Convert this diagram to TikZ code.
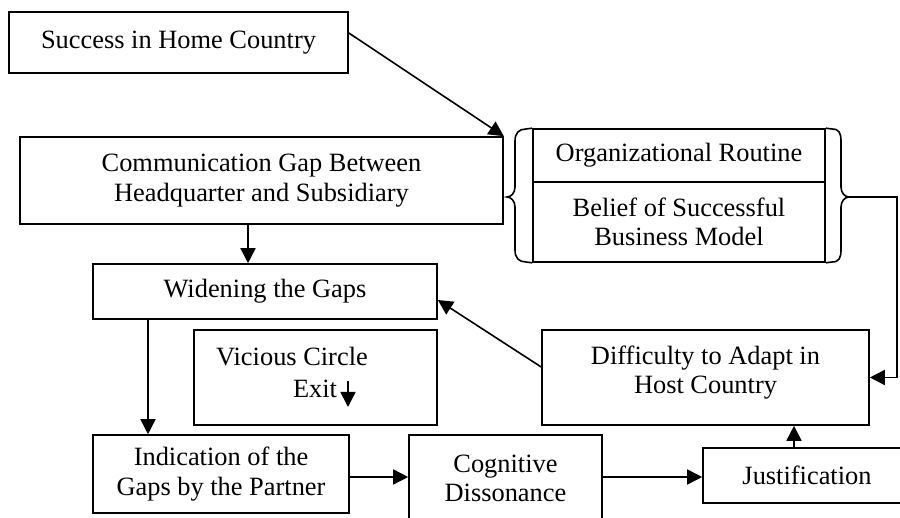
\documentclass[tikz,border=0pt]{standalone}
\usepackage{fontspec}
\setmainfont{Liberation Serif}
\usetikzlibrary{arrows.meta,calc}
\tikzset{
  box/.style={draw, line width=0.8pt, inner sep=0pt, align=center, font=\fontsize{13.2}{14.8}\selectfont},
  txt/.style={inner sep=0pt, align=center, font=\fontsize{13.2}{14.8}\selectfont},
  arr/.style={line width=0.8pt, -{Triangle[length=7.5pt,width=7.5pt]}},
  brace/.style={line width=0.8pt}
}
\begin{document}
\begin{tikzpicture}[x=0.5pt,y=-0.5pt]
\clip (0,0) rectangle (900,518);
\fill[white] (0,0) rectangle (900,518);
% boxes
\node[box, minimum width=169.5pt, minimum height=30.5pt] (succ) at (178.5,42.5) {Success in Home Country};
\node[box, minimum width=241.5pt, minimum height=43.5pt] (comm) at (261.5,180.5) {Communication Gap Between\\Headquarter and Subsidiary};
\node[box, minimum width=146pt, minimum height=26.5pt] (org) at (679,155.5) {Organizational Routine};
\node[box, minimum width=146pt, minimum height=40pt] (belief) at (679,222) {Belief of Successful\\Business Model};
\node[box, minimum width=172pt, minimum height=27.5pt] (widen) at (265,291.5) {Widening the Gaps};
\node[box, minimum width=121.5pt, minimum height=47.5pt] (vic) at (315.5,377.5) {};
\node[txt] (vict1) at (292,357) {Vicious Circle};
\node[txt] (vict2) at (315,389) {Exit};
\coordinate (exitA) at (348,381);
\coordinate (exitB) at (348,407);
\node[box, minimum width=163.5pt, minimum height=47.5pt] (diff) at (705.5,377.5) {};
\node[txt] (difft) at (705.5,372.5) {Difficulty to Adapt in\\Host Country};
\node[box, minimum width=128pt, minimum height=39pt] (indic) at (221,474) {Indication of the\\Gaps by the Partner};
\node[box, minimum width=96.5pt, minimum height=43.5pt] (cog) at (505.5,478.5) {Cognitive\\Dissonance};
\node[box, minimum width=104pt, minimum height=27.5pt] (just) at (807,475.5) {Justification};
% braces
\coordinate (braceL) at (507,197);
\coordinate (braceR) at (849,197);
\draw[brace] (org.north west) -- (526,129) .. controls (519,129) and (515,133) .. (515,141) -- (515,187)
  .. controls (515,193) and (511,197) .. (braceL) .. controls (511,197) and (515,201) .. (515,207)
  -- (515,250) .. controls (515,258) and (519,262) .. (526,262) -- (belief.south west);
\draw[brace] (org.north east) -- (832,129) .. controls (839,129) and (841,133) .. (841,141) -- (841,187)
  .. controls (841,193) and (845,197) .. (braceR) .. controls (845,197) and (841,201) .. (841,207)
  -- (841,250) .. controls (841,258) and (839,262) .. (832,262) -- (belief.south east);
% connector anchors
\coordinate (s1) at ($(succ.east)+(0,-9.5)$);
\coordinate (c1) at ($(comm.south)+(-13.5,0)$);
\coordinate (w1) at ($(widen.south)+(-117,0)$);
\coordinate (i1) at ($(indic.east)+(0,3)$);
\coordinate (g1) at ($(cog.east)+(0,-1.5)$);
\coordinate (j1) at ($(just.north)+(-13,0)$);
\coordinate (d1) at ($(diff.west)+(0,-10.5)$);
\coordinate (w2) at ($(widen.east)+(0,8.5)$);
\coordinate (turn) at (897,197);
% connectors
\draw[arr] (s1) -- (comm.north east);
\draw[arr] (c1) -- (c1 |- widen.north);
\draw[arr] (w1) -- (w1 |- indic.north);
\draw[arr] (i1) -- (i1 -| cog.west);
\draw[arr] (g1) -- (g1 -| just.west);
\draw[arr] (j1) -- (j1 |- diff.south);
\draw[arr] (d1) -- (w2);
\draw[arr] (braceR) -- (turn) |- (diff.east);
\draw[arr] (exitA) -- (exitB);
\end{tikzpicture}
\end{document}
